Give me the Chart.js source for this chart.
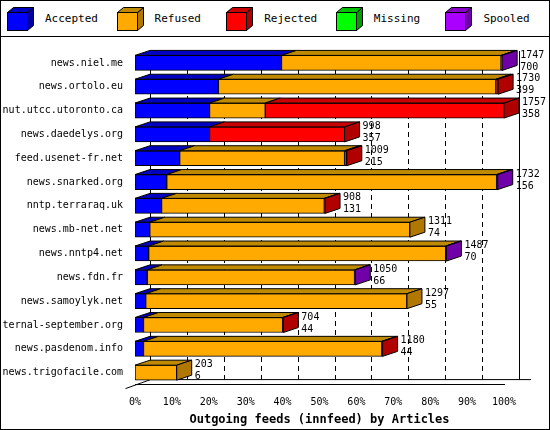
<!DOCTYPE html>
<html><head><meta charset="utf-8">
<script src="https://cdn.jsdelivr.net/npm/chart.js@4"></script>
<style>
body{margin:0;background:#fff;font-family:"DejaVu Sans Mono",monospace;}
#wrap{position:relative;width:548px;height:428px;border:1px solid #000;}
#legend{height:35px;border-bottom:1px solid #000;display:flex;align-items:center;font-size:11px;}
#legend span.it{display:flex;align-items:center;width:104px;margin-left:6px;}
#legend canvas{margin-right:10px;}
</style></head><body>
<div id="wrap">
<div id="legend"></div>
<canvas id="c" width="548" height="392"></canvas>
</div>
<script>
const hosts = ["news.niel.me","news.ortolo.eu","nut.utcc.utoronto.ca","news.daedelys.org","feed.usenet-fr.net","news.snarked.org","nntp.terraraq.uk","news.mb-net.net","news.nntp4.net","news.fdn.fr","news.samoylyk.net","eternal-september.org","news.pasdenom.info","news.trigofacile.com"];
// percent of the largest feed
const accepted = [39.7,22.6,20.2,20.2,12.1,8.6,7.2,4.0,3.7,3.3,2.9,2.3,2.3,0];
const refused  = [59.5,75.2,15.1,0,44.7,89.4,44.1,70.5,80.5,56.2,70.8,37.7,64.6,11.3];
const rejected = [0,0.6,64.7,36.6,0.6,0,0.2,0,0,0,0,0.2,0.2,0];
const missing  = [0,0,0,0,0,0,0,0,0,0,0,0,0,0];
const spooled  = [0.3,0,0,0,0,0.3,0,0,0.2,0.2,0,0,0,0];
const totals   = [1747,1730,1757,998,1009,1732,908,1311,1487,1050,1297,704,1180,203];
const acceptedCount = [700,399,358,357,215,156,131,74,70,66,55,44,44,6];
const xTicks = [0,10,20,30,40,50,60,70,80,90,100];

const names = ["Accepted","Refused","Rejected","Missing","Spooled"];
const front = ["#0000ff","#ffaa00","#ff0000","#00ff00","#aa00ff"];
const side  = ["#0000a0","#b07800","#b00000","#00a000","#7000a8"];
const top_  = ["#0000c0","#c08a00","#c80000","#00c000","#8800c8"];
const DX = 15, DY = 5;
const FONT = '"DejaVu Sans Mono", monospace';

// legend
const lg = document.getElementById('legend');
names.forEach((n,i)=>{
  const s=document.createElement('span');s.className='it';
  const c=document.createElement('canvas');c.width=28;c.height=24;
  const g=c.getContext('2d');g.strokeStyle='#000';g.lineWidth=1;
  g.fillStyle=front[i];g.fillRect(0.5,5.5,20,18);g.strokeRect(0.5,5.5,20,18);
  g.fillStyle=side[i];g.beginPath();g.moveTo(20.5,5.5);g.lineTo(26.5,0.5);g.lineTo(26.5,18.5);g.lineTo(20.5,23.5);g.closePath();g.fill();g.stroke();
  g.fillStyle=top_[i];g.beginPath();g.moveTo(0.5,5.5);g.lineTo(6.5,0.5);g.lineTo(26.5,0.5);g.lineTo(20.5,5.5);g.closePath();g.fill();g.stroke();
  s.appendChild(c);s.appendChild(document.createTextNode(n));lg.appendChild(s);
});

const series=[accepted,refused,rejected,missing,spooled];
const threeD={
  id:'threeD',
  beforeDatasetsDraw(chart){
    const {ctx,chartArea:a,scales:{x}}=chart;
    ctx.save();ctx.strokeStyle='#000';ctx.lineWidth=1;
    ctx.setLineDash([5,4]);
    xTicks.forEach(t=>{if(t===0)return;const px=Math.round(x.getPixelForValue(t))+DX+0.5;
      ctx.beginPath();ctx.moveTo(px,a.top);ctx.lineTo(px,a.bottom-DY);ctx.stroke();});
    ctx.setLineDash([]);
    const bx=Math.round(x.getPixelForValue(0))+DX+0.5;
    ctx.beginPath();ctx.moveTo(bx,a.top);ctx.lineTo(bx,a.bottom-DY);ctx.lineTo(a.right+DX+12,a.bottom-DY);ctx.stroke();
    ctx.beginPath();ctx.moveTo(a.right+DX+0.5,a.top);ctx.lineTo(a.right+DX+0.5,a.bottom-DY);ctx.stroke();
    ctx.beginPath();ctx.moveTo(bx,a.bottom-DY);ctx.lineTo(bx-DX-10,a.bottom+4);ctx.stroke();
    ctx.restore();
  },
  afterDatasetsDraw(chart){
    const ctx=chart.ctx;ctx.save();ctx.strokeStyle='#000';ctx.lineWidth=1;
    hosts.forEach((h,r)=>{
      let last=-1;
      series.forEach((s,d)=>{
        if(s[r]<=0)return;last=d;
        const el=chart.getDatasetMeta(d).data[r];
        const l=el.base,rt=el.x,t=el.y-el.height/2;
        ctx.fillStyle=top_[d];ctx.beginPath();
        ctx.moveTo(l,t);ctx.lineTo(l+DX,t-DY);ctx.lineTo(rt+DX,t-DY);ctx.lineTo(rt,t);ctx.closePath();ctx.fill();ctx.stroke();
      });
      if(last<0)return;
      const el=chart.getDatasetMeta(last).data[r];
      const rt=el.x,t=el.y-el.height/2,b=el.y+el.height/2;
      ctx.fillStyle=side[last];ctx.beginPath();
      ctx.moveTo(rt,t);ctx.lineTo(rt+DX,t-DY);ctx.lineTo(rt+DX,b-DY);ctx.lineTo(rt,b);ctx.closePath();ctx.fill();ctx.stroke();
      ctx.fillStyle='#000';ctx.font='10px '+FONT;ctx.textAlign='left';ctx.textBaseline='middle';
      ctx.fillText(String(totals[r]),rt+DX+3,el.y-8);
      ctx.fillText(String(acceptedCount[r]),rt+DX+3,el.y+4);
    });
    ctx.restore();
  }
};

new Chart(document.getElementById('c'),{
  type:'bar',
  data:{labels:hosts,datasets:names.map((n,i)=>({label:n,data:series[i],backgroundColor:front[i],borderColor:'#000',borderWidth:1,borderSkipped:false,barThickness:15}))},
  options:{
    indexAxis:'y',responsive:false,animation:false,
    layout:{padding:{top:14,right:45,left:2,bottom:0}},
    plugins:{legend:{display:false},tooltip:{enabled:false}},
    scales:{
      x:{stacked:true,min:0,max:100,grid:{display:false},border:{display:true,color:'#000'},
        afterBuildTicks(ax){ax.ticks=xTicks.map(v=>({value:v}));},
        ticks:{color:'#000',font:{family:FONT,size:10},padding:4,callback:v=>v+'%',maxRotation:0},
        title:{display:true,text:'Outgoing feeds (innfeed) by Articles',color:'#000',font:{family:FONT,size:12,weight:'bold'},padding:{top:0,bottom:2}}},
      y:{stacked:true,grid:{display:false},border:{display:false},
        afterFit(ax){ax.width=132;},
        ticks:{color:'#000',font:{family:FONT,size:10},padding:4}}
    }
  },
  plugins:[threeD]
});
</script>
</body></html>
